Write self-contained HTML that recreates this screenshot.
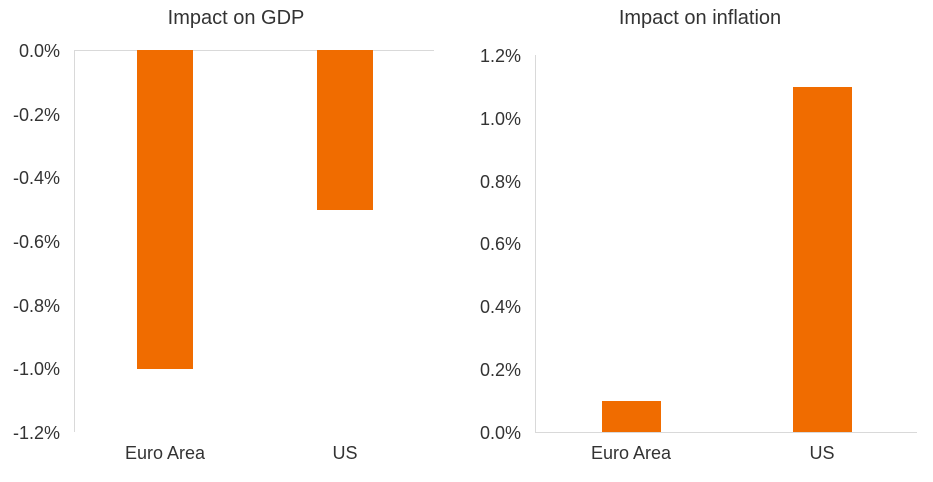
<!DOCTYPE html>
<html><head><style>
body{margin:0;background:#fff;width:933px;height:477px;overflow:hidden}
svg text{font-family:"Liberation Sans",Arial,sans-serif;fill:#333}
</style></head><body>
<svg width="933" height="477" viewBox="0 0 933 477">
<g font-size="19">
<text x="236" y="24" text-anchor="middle" font-size="20">Impact on GDP</text>
<text x="700" y="24" text-anchor="middle" font-size="20">Impact on inflation</text>
</g>
<!-- left -->
<line x1="74.5" y1="50" x2="74.5" y2="432" stroke="#d9d9d9"/>
<line x1="74" y1="50.5" x2="434" y2="50.5" stroke="#d9d9d9"/>
<rect x="137" y="50" width="56" height="319" fill="#F06C00"/>
<rect x="317" y="50" width="56" height="160" fill="#F06C00"/>
<g font-size="18" text-anchor="end">
<text x="60" y="57">0.0%</text>
<text x="60" y="121">-0.2%</text>
<text x="60" y="184">-0.4%</text>
<text x="60" y="248">-0.6%</text>
<text x="60" y="312">-0.8%</text>
<text x="60" y="375">-1.0%</text>
<text x="60" y="439">-1.2%</text>
</g>
<g font-size="18" text-anchor="middle">
<text x="165" y="459">Euro Area</text>
<text x="345" y="459">US</text>
</g>
<!-- right -->
<line x1="535.5" y1="55" x2="535.5" y2="432" stroke="#d9d9d9"/>
<line x1="535" y1="432.5" x2="917" y2="432.5" stroke="#d9d9d9"/>
<rect x="602" y="401" width="59" height="31" fill="#F06C00"/>
<rect x="793" y="87" width="59" height="345" fill="#F06C00"/>
<g font-size="18" text-anchor="end">
<text x="521" y="62">1.2%</text>
<text x="521" y="125">1.0%</text>
<text x="521" y="188">0.8%</text>
<text x="521" y="250">0.6%</text>
<text x="521" y="313">0.4%</text>
<text x="521" y="376">0.2%</text>
<text x="521" y="439">0.0%</text>
</g>
<g font-size="18" text-anchor="middle">
<text x="631" y="459">Euro Area</text>
<text x="822" y="459">US</text>
</g>
</svg>
</body></html>
